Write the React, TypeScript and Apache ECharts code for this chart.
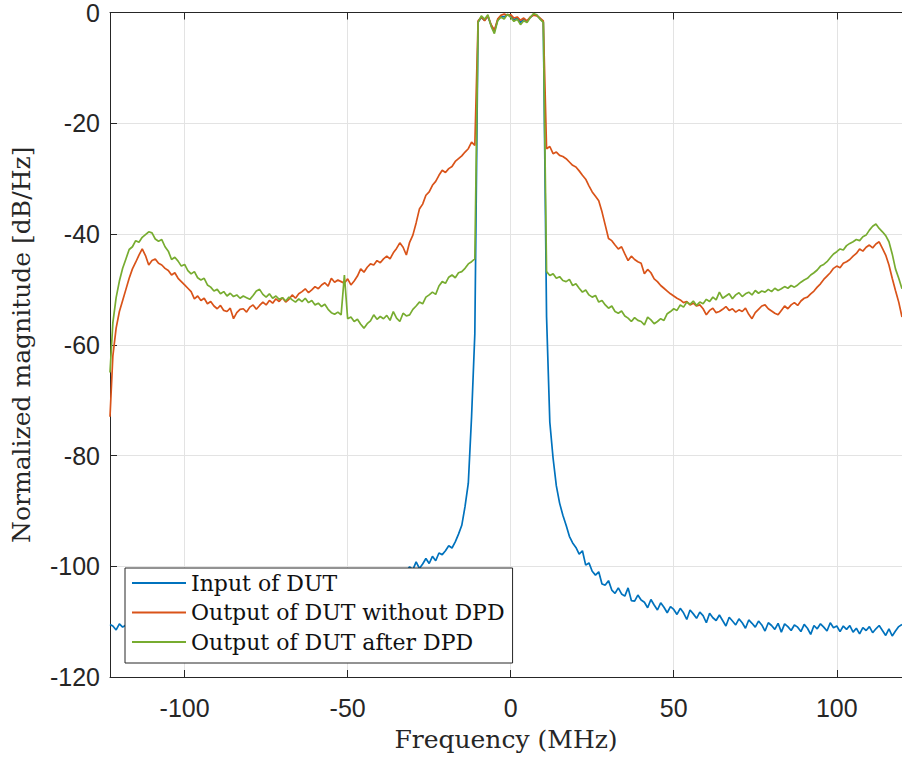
import React, { useEffect, useRef } from "react";
import * as echarts from "echarts";

// Frequency grid (MHz): left edge sample, then 1 MHz spacing from -122 to 120
const freq: number[] = [-122.88, ...Array.from({ length: 243 }, (_, i) => -122 + i)];

const seriesNames = ["Input of DUT", "Output of DUT without DPD", "Output of DUT after DPD"];
const seriesColors = ["#0072BD", "#D95319", "#77AC30"];

const inputDUT = [
  -110.5,
  // -122..-113
  -110.8, -111.5, -110.4, -111.0, -110.6, -111.2, -110.3, -110.9, -111.4, -110.7,
  // -112..-103
  -111.0, -110.5, -111.3, -110.8, -111.1, -110.4, -110.9, -110.6, -111.2, -110.7,
  // -102..-93
  -110.5, -111.0, -110.3, -110.8, -110.4, -110.9, -110.2, -110.6, -110.0, -110.5,
  // -92..-83
  -110.1, -110.6, -109.9, -110.3, -109.6, -110.0, -109.4, -109.8, -109.2, -109.5,
  // -82..-73
  -109.0, -109.4, -108.8, -109.2, -108.6, -108.9, -108.3, -108.7, -108.1, -108.5,
  // -72..-63
  -107.9, -108.2, -107.6, -108.0, -107.3, -107.7, -107.0, -107.4, -106.8, -107.1,
  // -62..-53
  -106.5, -106.9, -106.2, -106.5, -105.8, -106.1, -105.5, -105.8, -105.1, -105.4,
  // -52..-43
  -104.8, -105.0, -104.4, -104.7, -104.0, -104.2, -103.6, -103.9, -103.2, -103.5,
  // -42..-33
  -102.8, -103.0, -102.4, -102.6, -102.0, -102.2, -101.6, -101.8, -101.2, -100.6,
  // -32..-23
  -101.0, -100.1, -100.6, -99.2, -100.4, -99.6, -98.6, -99.5, -98.2, -99.0,
  // -22..-13
  -97.6, -97.9, -97.2, -96.3, -96.7, -95.6, -94.2, -92.6, -89.2, -85.0,
  // -12..-3
  -73.0, -58.0, -1.7, -0.9, -1.4, -0.7, -2.3, -3.4, -1.4, -0.7,
  // -2..7
  -0.8, -0.4, -0.7, -1.3, -1.0, -1.8, -1.2, -1.6, -0.9, -0.4,
  // 8..17
  -0.5, -1.1, -1.7, -55.0, -74.0, -80.5, -85.5, -88.6, -90.8, -92.6,
  // 18..27
  -94.6, -95.8, -96.6, -97.8, -97.2, -99.8, -99.4, -100.9, -101.6, -101.0,
  // 28..37
  -103.2, -103.4, -102.6, -104.3, -104.9, -103.9, -105.0, -105.4, -103.9, -106.2,
  // 38..47
  -106.3, -105.2, -106.1, -106.5, -107.5, -106.0, -107.0, -107.9, -106.6, -107.4,
  // 48..57
  -108.4, -107.3, -107.8, -108.7, -107.6, -108.4, -109.6, -107.9, -108.6, -109.4,
  // 58..67
  -108.3, -108.9, -110.2, -108.5, -109.3, -109.8, -108.8, -109.8, -110.8, -109.2,
  // 68..77
  -109.9, -110.6, -109.5, -110.2, -111.2, -109.7, -110.3, -111.0, -109.9, -110.6,
  // 78..87
  -111.7, -110.2, -110.7, -111.4, -110.3, -111.9, -110.4, -110.9, -111.6, -110.6,
  // 88..97
  -111.0, -111.8, -110.5, -111.2, -112.3, -110.7, -111.3, -110.4, -111.0, -111.7,
  // 98..107
  -110.2, -111.1, -110.8, -111.8, -110.8, -111.4, -110.7, -111.9, -111.2, -112.2,
  // 108..117
  -111.1, -111.6, -110.9, -112.0, -111.3, -110.7, -111.6, -112.5, -111.3, -112.6,
  // 118..120
  -111.7, -110.9, -110.5,
];

const withoutDPD = [
  -73,
  // -122..-113
  -62.0, -57.0, -54.0, -52.0, -50.0, -48.0, -46.3, -45.1, -43.8, -42.7,
  // -112..-103
  -43.9, -45.6, -44.8, -44.5, -45.3, -45.6, -46.2, -46.6, -47.4, -47.0,
  // -102..-93
  -48.0, -48.6, -49.2, -49.8, -50.4, -51.7, -51.2, -52.0, -51.6, -52.6,
  // -92..-83
  -52.2, -53.0, -53.5, -52.9, -53.8, -54.0, -53.4, -55.3, -54.2, -53.6,
  // -82..-73
  -53.5, -54.1, -53.2, -52.8, -53.6, -52.9, -52.3, -52.8, -52.0, -52.5,
  // -72..-63
  -51.7, -52.2, -51.5, -52.3, -51.8, -51.0, -51.6, -50.8, -50.4, -49.9,
  // -62..-53
  -50.6, -50.1, -49.5, -49.9, -49.2, -48.8, -49.4, -48.0, -48.7, -48.3,
  // -52..-43
  -48.6, -48.9, -48.1, -49.2, -48.5, -47.6, -46.3, -46.9, -46.0, -45.4,
  // -42..-33
  -45.6, -44.8, -45.2, -44.5, -44.0, -44.5, -43.4, -42.6, -41.6, -42.4,
  // -32..-23
  -43.8, -41.5, -40.2, -38.0, -35.5, -34.6, -33.0, -32.4, -31.2, -30.5,
  // -22..-13
  -29.4, -28.5, -28.9, -28.2, -27.8, -26.9, -26.4, -25.9, -25.2, -24.6,
  // -12..-3
  -23.4, -24.0, -1.5, -0.8, -1.5, -0.6, -2.2, -3.2, -1.2, -0.5,
  // -2..7
  -0.3, -0.5, -0.4, -1.0, -0.8, -1.4, -1.0, -1.5, -0.8, -0.5,
  // 8..17
  -0.6, -1.0, -1.5, -24.6, -24.2, -25.5, -25.2, -25.8, -26.0, -26.4,
  // 18..27
  -27.0, -27.6, -27.9, -28.6, -29.4, -30.1, -31.3, -32.4, -33.2, -34.0,
  // 28..37
  -36.0, -38.4, -40.8, -41.2, -42.0, -42.7, -42.3, -43.6, -44.8, -44.0,
  // 38..47
  -44.6, -45.0, -45.3, -47.2, -46.4, -47.0, -48.1, -48.6, -49.3, -49.8,
  // 48..57
  -50.3, -50.8, -51.2, -51.6, -51.9, -52.4, -52.2, -52.8, -52.5, -53.0,
  // 58..67
  -52.8, -53.5, -54.6, -53.8, -53.4, -54.2, -54.0, -53.6, -53.1, -53.8,
  // 68..77
  -53.5, -54.1, -53.7, -54.0, -53.4, -54.5, -55.3, -54.2, -53.6, -53.0,
  // 78..87
  -52.8, -53.5, -53.9, -54.3, -54.6, -53.8, -53.0, -53.5, -52.8, -52.4,
  // 88..97
  -52.9, -52.1, -51.6, -51.4, -50.8, -50.3, -49.6, -49.0, -48.2, -47.6,
  // 98..107
  -47.0, -46.2, -45.8, -46.1, -45.3, -45.0, -44.6, -44.0, -43.5, -42.7,
  // 108..117
  -43.1, -42.4, -42.0, -42.5, -41.8, -41.4, -42.6, -43.8, -45.6, -48.0,
  // 118..120
  -50.2, -52.3, -55.0,
];

const afterDPD = [
  -65,
  // -122..-113
  -56.0, -51.5, -48.5, -46.2, -44.5, -42.8, -42.3, -41.2, -41.5, -40.6,
  // -112..-103
  -40.1, -39.6, -39.8, -40.9, -41.3, -41.0, -42.3, -43.1, -44.6, -44.2,
  // -102..-93
  -44.9, -45.8, -45.5, -46.6, -47.2, -46.8, -47.9, -48.3, -48.0, -49.2,
  // -92..-83
  -49.6, -50.3, -50.0, -50.8, -50.4, -51.2, -50.7, -51.3, -51.0, -51.6,
  // -82..-73
  -51.2, -51.5, -51.8, -51.1, -50.3, -50.0, -50.9, -51.4, -50.8, -51.6,
  // -72..-63
  -51.2, -51.8, -51.5, -52.1, -51.4, -51.9, -52.3, -51.7, -52.2, -51.6,
  // -62..-53
  -52.4, -52.0, -52.8, -52.5, -53.1, -52.7, -53.6, -54.2, -54.5, -54.1,
  // -52..-43
  -54.6, -47.4, -55.3, -55.0, -55.8, -55.4, -56.3, -57.0, -56.2, -55.7,
  // -42..-33
  -54.6, -55.4, -54.9, -55.3, -54.7, -55.6, -54.0, -55.2, -55.8, -54.3,
  // -32..-23
  -54.8, -54.6, -53.6, -53.0, -52.3, -52.6, -51.4, -51.0, -50.5, -50.9,
  // -22..-13
  -49.4, -48.6, -48.9, -47.8, -47.4, -47.9, -47.0, -46.8, -46.2, -45.4,
  // -12..-3
  -45.0, -44.5, -1.8, -0.6, -1.2, -0.4, -2.5, -3.8, -1.5, -0.8,
  // -2..7
  -1.2, -0.3, -0.9, -1.6, -1.2, -2.2, -1.5, -1.8, -0.9, -0.2,
  // 8..17
  -0.4, -1.2, -1.8, -46.8, -47.5, -47.2, -48.0, -47.7, -48.4, -48.6,
  // 18..27
  -48.2, -49.3, -49.0, -49.8, -50.5, -50.1, -51.0, -51.4, -51.1, -52.3,
  // 28..37
  -52.0, -52.8, -53.4, -53.0, -54.0, -54.3, -53.9, -54.8, -55.2, -55.8,
  // 38..47
  -55.1, -55.6, -55.8, -56.4, -55.0, -55.5, -56.2, -55.8, -55.3, -55.6,
  // 48..57
  -54.4, -54.0, -53.5, -53.8, -52.8, -53.2, -52.3, -52.7, -52.1, -52.9,
  // 58..67
  -52.3, -52.6, -51.8, -52.2, -51.4, -51.9, -50.5, -51.6, -51.2, -50.8,
  // 68..77
  -51.7, -51.0, -50.6, -51.3, -50.8, -50.5, -51.0, -50.2, -50.7, -50.3,
  // 78..87
  -50.5, -50.0, -50.4, -49.8, -50.2, -49.9, -49.5, -49.8, -49.3, -49.6,
  // 88..97
  -49.2, -48.7, -48.3, -48.0, -47.4, -47.0, -46.5, -45.8, -45.5, -45.0,
  // 98..107
  -44.3, -43.6, -43.2, -42.7, -42.9, -42.1, -41.7, -41.4, -41.0, -41.2,
  // 108..117
  -40.5, -40.2, -39.3, -38.6, -38.2, -39.0, -39.6, -40.3, -41.4, -43.6,
  // 118..120
  -46.3, -48.0, -49.9,
];

const seriesValues = [inputDUT, withoutDPD, afterDPD];

const xMin = -122.88;
const xMax = 120;
const yMin = -120;
const yMax = 0;
const yStep = 20;

const AXIS_COLOR = "#262626";
const GRID_COLOR = "#e3e3e3";

export default function App() {
  const ref = useRef<HTMLDivElement>(null);

  useEffect(() => {
    if (!ref.current) return;
    const chart = echarts.init(ref.current, null, { renderer: "svg" });

    const series = seriesNames.map((name, k) => ({
      name,
      type: "line",
      data: freq.map((f, i) => [f, seriesValues[k][i]]),
      showSymbol: false,
      symbol: "none",
      color: seriesColors[k],
      lineStyle: { width: 1.7, color: seriesColors[k] },
      clip: true,
      silent: true,
    }));

    const option: any = {
      animation: false,
      backgroundColor: "#ffffff",
      grid: { left: 110, right: 0, top: 10, bottom: 85, containLabel: false },
      legend: {
        data: seriesNames,
        orient: "vertical",
        left: 125,
        top: 568,
        padding: [4, 8, 10, 7],
        itemWidth: 54,
        itemHeight: 2,
        itemGap: 7.5,
        icon: "rect",
        backgroundColor: "#ffffff",
        borderColor: AXIS_COLOR,
        borderWidth: 1,
        borderRadius: 0,
        selectedMode: false,
        textStyle: { fontFamily: "DejaVu Serif", fontSize: 22, color: "#111", lineHeight: 22 },
      },
      xAxis: [
        {
          type: "value",
          position: "bottom",
          min: xMin,
          max: xMax,
          splitNumber: 5,
          name: "Frequency (MHz)",
          nameLocation: "middle",
          nameGap: 50,
          nameTextStyle: { fontFamily: "DejaVu Serif", fontSize: 25, color: AXIS_COLOR },
          axisLine: { show: true, onZero: false, lineStyle: { color: AXIS_COLOR, width: 1 } },
          axisTick: { show: true, inside: true, length: 7, lineStyle: { color: AXIS_COLOR } },
          axisLabel: {
            show: true,
            showMinLabel: false,
            showMaxLabel: false,
            margin: 18,
            fontFamily: "Liberation Sans",
            fontSize: 25,
            color: AXIS_COLOR,
          },
          splitLine: { show: true, showMinLine: false, showMaxLine: false, lineStyle: { color: GRID_COLOR, width: 1 } },
        },
        {
          type: "value",
          position: "top",
          min: xMin,
          max: xMax,
          splitNumber: 5,
          axisLine: { show: true, onZero: false, lineStyle: { color: AXIS_COLOR, width: 1 } },
          axisTick: { show: true, inside: true, length: 7, lineStyle: { color: AXIS_COLOR } },
          axisLabel: { show: false },
          splitLine: { show: false },
        },
      ],
      yAxis: {
        type: "value",
        min: yMin,
        max: yMax,
        interval: yStep,
        name: "Normalized magnitude [dB/Hz]",
        nameLocation: "middle",
        nameGap: 76,
        nameRotate: 90,
        nameTextStyle: { fontFamily: "DejaVu Serif", fontSize: 25, color: AXIS_COLOR },
        axisLine: { show: true, onZero: false, lineStyle: { color: AXIS_COLOR, width: 1 } },
        axisTick: { show: true, inside: true, length: 7, lineStyle: { color: AXIS_COLOR } },
        axisLabel: { margin: 10, fontFamily: "Liberation Sans", fontSize: 25, color: AXIS_COLOR },
        splitLine: { show: true, lineStyle: { color: GRID_COLOR, width: 1 } },
      },
      series,
    };

    chart.setOption(option);
    return () => chart.dispose();
  }, []);

  return (
    <div
      ref={ref}
      style={{ position: "fixed", left: 0, top: 0, width: 902, height: 762, background: "#fff" }}
    />
  );
}
